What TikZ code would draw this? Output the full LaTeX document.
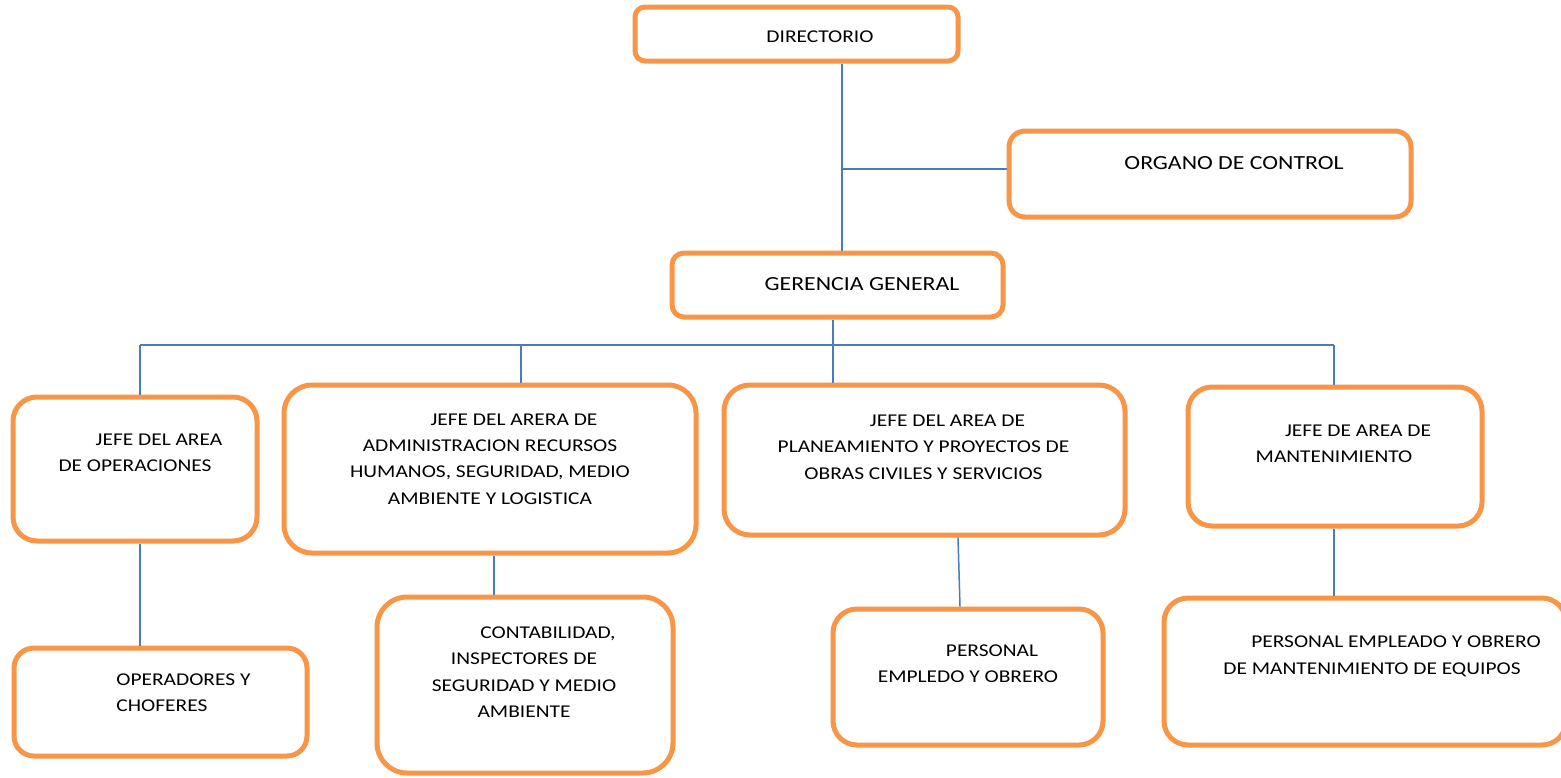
\documentclass[tikz,border=0pt]{standalone}
\usepackage{fontspec}
\setmainfont{Carlito}[FakeStretch=1.19]
\usetikzlibrary{positioning}
\definecolor{naranja}{HTML}{F79646}
\definecolor{azul}{HTML}{4A7EBB}
\tikzset{
	caja/.style={draw=naranja, line width=2.5pt, rounded corners=12pt, fill=white},
	texto/.style={align=center, inner sep=0pt, font=\fontsize{9}{13.2}\selectfont},
	grande/.style={texto, font=\fontsize{10}{12}\selectfont},
	linea/.style={draw=azul, line width=0.75pt}
}
\newcommand{\sangria}{\hspace*{24pt}}

\begin{document}
\begin{tikzpicture}[x=0.5pt,y=-0.5pt]
	\useasboundingbox (0,0) rectangle (1561,777);
	% cajas
	\node[caja, minimum width=161.5pt, minimum height=27pt, rounded corners=5pt] (dir) at (796.5,34) {};
	\node[caja, minimum width=201pt, minimum height=43pt, rounded corners=8pt] (org) at (1210,174) {};
	\node[caja, minimum width=165.5pt, minimum height=32pt, rounded corners=6pt] (ger) at (837.5,285) {};
	\node[caja, minimum width=122pt, minimum height=72pt] (ops) at (135,469) {};
	\node[caja, minimum width=206pt, minimum height=84pt, rounded corners=14pt] (adm) at (490,469) {};
	\node[caja, minimum width=200.5pt, minimum height=75pt, rounded corners=13pt] (pla) at (924.5,460) {};
	\node[caja, minimum width=147pt, minimum height=69.5pt] (man) at (1335,456.5) {};
	\node[caja, minimum width=146.5pt, minimum height=54pt, rounded corners=10pt] (ope) at (160.5,702) {};
	\node[caja, minimum width=148pt, minimum height=88pt, rounded corners=15pt] (con) at (525,685) {};
	\node[caja, minimum width=135pt, minimum height=68pt] (per) at (968,677) {};
	\node[caja, minimum width=201pt, minimum height=73.5pt] (pe) at (1365,671.5) {};

	% textos
	\node[texto] (dirtxt) at (820,37) {DIRECTORIO};
	\node[grande] (orgtxt) at (1234,163) {ORGANO DE CONTROL};
	\node[grande] (gertxt) at (862,284) {GERENCIA GENERAL};
	\node[texto] (opstxt) at (135,452.5) {\sangria JEFE DEL AREA\\DE OPERACIONES};
	\node[texto] (admtxt) at (490,459) {\sangria JEFE DEL ARERA DE\\ADMINISTRACION RECURSOS\\HUMANOS, SEGURIDAD, MEDIO\\AMBIENTE Y LOGISTICA};
	\node[texto] (platxt) at (923.5,447) {\sangria JEFE DEL AREA DE\\PLANEAMIENTO Y PROYECTOS DE\\OBRAS CIVILES Y SERVICIOS};
	\node[texto] (mantxt) at (1334,443.5) {\sangria JEFE DE AREA DE\\MANTENIMIENTO};
	\node[texto, align=left, anchor=west] (opetxt) at (116,692.5) {OPERADORES Y\\CHOFERES};
	\node[texto] (contxt) at (524,672) {\sangria CONTABILIDAD,\\INSPECTORES DE\\SEGURIDAD Y MEDIO\\AMBIENTE};
	\node[texto] (pertxt) at (968,663.5) {\sangria PERSONAL\\EMPLEDO Y OBRERO};
	\node[texto] (petxt) at (1372,656.5) {\sangria PERSONAL EMPLEADO Y OBRERO\\DE MANTENIMIENTO DE EQUIPOS};

	% conectores
	\coordinate (eje) at (842,0);
	\coordinate (b1) at (140,345);
	\coordinate (b2) at (521,345);
	\coordinate (b3) at (833,345);
	\coordinate (b4) at (1334,345);
	\coordinate (k2) at (494,0);
	\coordinate (k3) at (958,0);
	\coordinate (k3b) at (960,0);
	\draw[linea] (dir.south -| eje) -- (ger.north -| eje);
	\draw[linea] ([yshift=2.5pt]org.west -| eje) -- ([yshift=2.5pt]org.west);
	\draw[linea] (ger.south -| b3) -- (b3);
	\draw[linea] (b1) -- (b4);
	\foreach \b/\n in {b1/ops, b2/adm, b3/pla, b4/man}
		\draw[linea] (\b) -- (\n.north -| \b);
	\draw[linea] (ops.south -| b1) -- (ope.north -| b1);
	\draw[linea] (adm.south -| k2) -- (con.north -| k2);
	\draw[linea] (pla.south -| k3) -- (per.north -| k3b);
	\draw[linea] (man.south -| b4) -- (pe.north -| b4);
\end{tikzpicture}
\end{document}
